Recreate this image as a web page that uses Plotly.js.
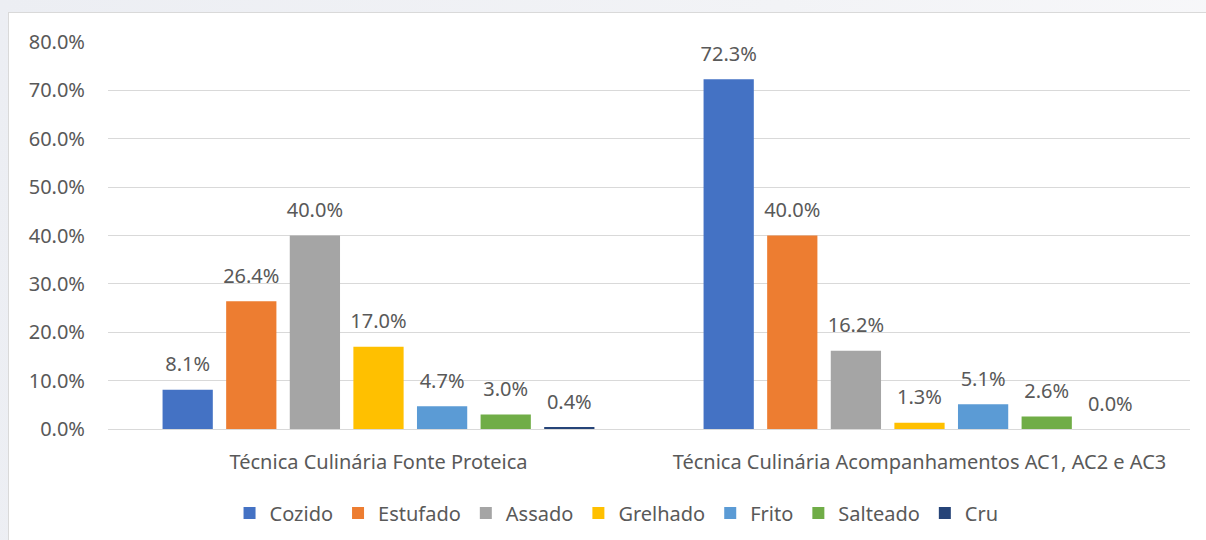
<!DOCTYPE html>
<html>
<head>
<meta charset="utf-8">
<script src="https://cdn.plot.ly/plotly-3.0.1.min.js"></script>
<style>
html,body{margin:0;padding:0;width:1206px;height:540px;overflow:hidden;
  background:linear-gradient(100deg,#eceef3 0%,#f2f3f6 60%,#f8f8fa 100%);}
#wrap{position:absolute;left:8px;top:12px;width:1220px;height:560px;background:#fff;
  border-left:1px solid #d9d9d9;border-top:1px solid #d9d9d9;}
#chart{position:absolute;left:0;top:0;width:1197px;height:527px;}
</style>
</head>
<body>
<div id="wrap"><div id="chart"></div></div>
<script>
const categories = ["Técnica Culinária Fonte Proteica", "Técnica Culinária Acompanhamentos AC1, AC2 e AC3"];
const seriesNames = ["Cozido", "Estufado", "Assado", "Grelhado", "Frito", "Salteado", "Cru"];
const cozido   = [0.081, 0.723];
const estufado = [0.264, 0.400];
const assado   = [0.400, 0.162];
const grelhado = [0.170, 0.013];
const frito    = [0.047, 0.051];
const salteado = [0.030, 0.026];
const cru      = [0.004, 0.000];
const yTicks = [0, 0.1, 0.2, 0.3, 0.4, 0.5, 0.6, 0.7, 0.8];

const seriesValues = [cozido, estufado, assado, grelhado, frito, salteado, cru];
const colors = ["#4472C4", "#ED7D31", "#A5A5A5", "#FFC000", "#5B9BD5", "#70AD47", "#264478"];
const fontFamily = "'Noto Sans', 'Open Sans', sans-serif";
const textColor = "#595959";
const fs = 20;

const traces = [];
seriesNames.forEach((name, i) => {
  traces.push({
    type: "bar", name: name, x: categories, y: seriesValues[i],
    marker: {color: colors[i]}, offsetgroup: String(i),
    hoverinfo: "skip"
  });
});
seriesNames.forEach((name, i) => {
  traces.push({
    type: "scatter", mode: "markers+text", x: categories, y: seriesValues[i],
    offsetgroup: String(i), showlegend: false, cliponaxis: false,
    marker: {size: 20, color: "rgba(0,0,0,0)"},
    text: seriesValues[i].map(v => (v * 100).toFixed(1) + "%"),
    textposition: "top center",
    textfont: {size: fs, color: textColor, family: fontFamily},
    hoverinfo: "skip"
  });
});

const layout = {
  width: 1197, height: 527,
  margin: {l: 99, r: 16, t: 29, b: 111},
  paper_bgcolor: "rgba(0,0,0,0)", plot_bgcolor: "#fff",
  barmode: "group", scattermode: "group",
  bargap: 0.177, bargroupgap: 0.21, scattergap: 0.177,
  font: {family: fontFamily, color: textColor, size: fs},
  showlegend: true,
  legend: {orientation: "h", x: 0.47, xanchor: "center", yref: "container",
           y: 0.051, yanchor: "middle",
           font: {size: fs, color: textColor}, itemwidth: 30, traceorder: "normal"},
  xaxis: {type: "category", showgrid: false, zeroline: false, showline: false, ticks: "",
          automargin: false,
          tickfont: {size: fs, color: textColor}, ticklabelstandoff: 19},
  yaxis: {range: [0, 0.8], tickvals: yTicks, tickformat: ".1%", showgrid: true,
          automargin: false,
          gridcolor: "#d9d9d9", gridwidth: 1, zeroline: true, zerolinecolor: "#d9d9d9",
          zerolinewidth: 1, showline: false, ticks: "", ticklabelstandoff: 22,
          tickfont: {size: fs, color: textColor}},
  hovermode: false
};

Plotly.newPlot("chart", traces, layout, {displayModeBar: false, staticPlot: true});
</script>
</body>
</html>
